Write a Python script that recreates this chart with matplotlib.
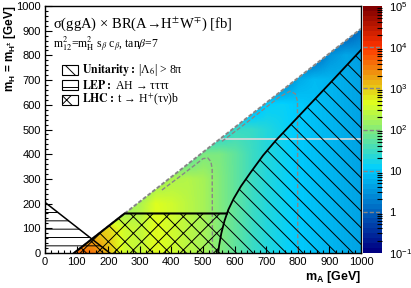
import numpy as np
import matplotlib
matplotlib.use("Agg")
import matplotlib.pyplot as plt
from matplotlib.colors import LinearSegmentedColormap, Normalize, LogNorm
from matplotlib.patches import Polygon, Rectangle
from matplotlib.cm import ScalarMappable
from matplotlib.ticker import MultipleLocator, FixedLocator, NullFormatter

plt.rcParams["font.family"] = ["Liberation Sans", "DejaVu Sans"]
plt.rcParams["mathtext.fontset"] = "custom"
plt.rcParams["mathtext.rm"] = "Liberation Sans"
plt.rcParams["mathtext.it"] = "Liberation Sans:italic"
plt.rcParams["mathtext.bf"] = "Liberation Sans:bold"
plt.rcParams["hatch.linewidth"] = 0.7

# --- data ------------------------------------------------------------------
# log10( sigma(ggA) x BR(A -> H+- W-+) / fb ) on a coarse (mA, mH) grid
mA_grid = [100, 150, 200, 250, 300, 350, 400, 450, 500, 550,
           600, 650, 700, 750, 800, 850, 900, 950, 1000]
mH_grid = [0, 100, 200, 300, 400, 500, 600, 700, 800, 900]
log_xsec = [
    [3.70, 3.60, 3.10, 2.55, 2.45, 2.70, 2.55, 2.40, 2.25, 2.00, 1.75, 1.50, 1.30, 1.15, 1.00, 0.90, 0.80, 0.70, 0.60],
    [2.80, 3.00, 2.95, 2.55, 2.45, 2.70, 2.55, 2.40, 2.25, 2.00, 1.75, 1.50, 1.30, 1.15, 1.00, 0.90, 0.80, 0.70, 0.60],
    [1.90, 1.90, 1.90, 2.10, 2.30, 2.65, 2.55, 2.40, 2.25, 2.00, 1.75, 1.50, 1.30, 1.15, 1.00, 0.90, 0.80, 0.70, 0.60],
    [1.70, 1.70, 1.70, 1.70, 1.70, 2.10, 2.30, 2.35, 2.25, 2.00, 1.75, 1.50, 1.30, 1.15, 1.00, 0.90, 0.80, 0.70, 0.60],
    [1.40, 1.40, 1.40, 1.40, 1.40, 1.40, 1.40, 1.55, 1.95, 1.95, 1.75, 1.50, 1.30, 1.15, 1.00, 0.90, 0.80, 0.70, 0.60],
    [1.00, 1.00, 1.00, 1.00, 1.00, 1.00, 1.00, 1.00, 1.00, 1.10, 1.45, 1.45, 1.30, 1.15, 1.00, 0.90, 0.80, 0.70, 0.60],
    [0.55, 0.55, 0.55, 0.55, 0.55, 0.55, 0.55, 0.55, 0.55, 0.55, 0.55, 0.65, 1.05, 1.10, 1.00, 0.90, 0.80, 0.70, 0.60],
    [0.15, 0.15, 0.15, 0.15, 0.15, 0.15, 0.15, 0.15, 0.15, 0.15, 0.15, 0.15, 0.15, 0.25, 0.70, 0.85, 0.80, 0.70, 0.60],
    [-0.10, -0.10, -0.10, -0.10, -0.10, -0.10, -0.10, -0.10, -0.10, -0.10, -0.10, -0.10, -0.10, -0.10, -0.10, 0.00, 0.45, 0.65, 0.55],
    [-0.30, -0.30, -0.30, -0.30, -0.30, -0.30, -0.30, -0.30, -0.30, -0.30, -0.30, -0.30, -0.30, -0.30, -0.30, -0.30, -0.30, -0.20, 0.20],
]
kin_offset = 92          # A -> H W threshold edge: mA - mH
glitch_mH = 462          # faint empty row in the map

lep_sum = 205            # LEP: mA + mH below this excluded
lhc_mH = 160             # LHC: t -> H+ b excluded below this

unit_mA = [548, 551, 558, 568, 580, 597, 620, 650, 690, 730, 800, 900, 1000]
unit_mH = [0, 30, 80, 130, 175, 220, 270, 325, 395, 455, 550, 685, 822]

cont1_mA = [370, 420, 470, 500, 515, 525, 529, 530]
cont1_mH = [255, 303, 352, 382, 385, 370, 340, 0]
cont2_mA = [560, 620, 680, 740, 775, 792, 799, 800]
cont2_mH = [452, 510, 570, 630, 655, 645, 615, 0]

cbar_ticks = [1e-1, 1, 10, 1e2, 1e3, 1e4, 1e5]
cbar_labels = ["$10^{-1}$", "1", "10", "$10^{2}$", "$10^{3}$", "$10^{4}$", "$10^{5}$"]

title = "σ(ggA) × BR(A→H$^{\\pm}$W$^{\\mp}$) [fb]"
subtitle = "m$^{2}_{12}$=m$^{2}_{\\rm H}$ s$_{\\beta}$ c$_{\\beta}$, tan$\\beta$=7"
legend_labels = ["$\\mathbf{Unitarity:}$ |Λ$_{6}$| > 8π",
                 "$\\mathbf{LEP:}$ AH → ττττ",
                 "$\\mathbf{LHC:}$ t → H$^{+}$(τν)b"]
legend_hatches = ["\\\\", "--", "xx"]

# ROOT-like rainbow
cmap = LinearSegmentedColormap.from_list(
    "rootrainbow",
    [(0.00, (0.00, 0.00, 0.51)),
     (0.34, (0.00, 0.81, 1.00)),
     (0.61, (0.87, 1.00, 0.12)),
     (0.84, (1.00, 0.20, 0.00)),
     (1.00, (0.51, 0.00, 0.00))])

W, H = 411, 288
fig = plt.figure(figsize=(W / 100, H / 100), dpi=100)
ax = fig.add_axes([45 / W, 1 - 253 / H, 316 / W, 247 / H])

# heat map, clipped to the kinematically allowed triangle
hx = (mA_grid[1] - mA_grid[0]) / 2
hy = (mH_grid[1] - mH_grid[0]) / 2
im = ax.imshow(np.array(log_xsec), origin="lower", aspect="auto",
               extent=(mA_grid[0] - hx, mA_grid[-1] + hx, mH_grid[0] - hy, mH_grid[-1] + hy),
               cmap=cmap, norm=Normalize(-1, 5), interpolation="bilinear",
               interpolation_stage="data", zorder=1)
edge = Polygon([(kin_offset, 0), (1000, 1000 - kin_offset), (1000, 0)], closed=True,
               transform=ax.transData)
im.set_clip_path(edge)

ax.plot([glitch_mH + kin_offset, 1000], [glitch_mH, glitch_mH], color="#dadada", lw=1.2, zorder=2)

gray = "#878787"
ax.plot([kin_offset, 1000], [0, 1000 - kin_offset], color=gray, lw=1.4, ls=(0, (2, 1)), zorder=3)
ax.plot(cont1_mA, cont1_mH, color=gray, lw=1.0, ls=(0, (3, 1.5)), zorder=3)
ax.plot(cont2_mA, cont2_mH, color=gray, lw=1.0, ls=(0, (3, 1.5)), zorder=3)

# excluded regions
unit_poly = list(zip(unit_mA, unit_mH)) + [(1000, 0)]
ax.add_patch(Polygon(unit_poly, closed=True, facecolor="none", edgecolor="black",
                     hatch=legend_hatches[0], lw=0, zorder=4))
ax.add_patch(Polygon([(0, 0), (0, lep_sum), (lep_sum, 0)], closed=True, facecolor="none",
                     edgecolor="black", hatch=legend_hatches[1], lw=0, zorder=4))
u_lhc = np.interp(lhc_mH, unit_mH, unit_mA)
low = [(a, h) for a, h in zip(unit_mA, unit_mH) if h < lhc_mH][::-1]
lhc_poly = [(kin_offset, 0), (kin_offset + lhc_mH, lhc_mH), (u_lhc, lhc_mH)] + low
ax.add_patch(Polygon(lhc_poly, closed=True, facecolor="none", edgecolor="black",
                     hatch=legend_hatches[2], lw=0, zorder=4))

ax.plot(unit_mA, unit_mH, color="black", lw=1.3, zorder=5)
ax.plot([0, lep_sum], [lep_sum, 0], color="black", lw=1.1, zorder=5)
ax.plot([kin_offset, kin_offset + lhc_mH, u_lhc], [0, lhc_mH, lhc_mH], color="black", lw=1.5, zorder=5)

ax.set_xlim(0, 1000)
ax.set_ylim(0, 1000)
for axis in (ax.xaxis, ax.yaxis):
    axis.set_major_locator(MultipleLocator(100))
    axis.set_minor_locator(MultipleLocator(20))
ax.tick_params(which="both", direction="in", top=False, right=False, width=0.8, labelsize=8)
ax.tick_params(which="major", length=5)
ax.tick_params(which="minor", length=2.5)
ax.tick_params(axis="x", pad=3)
ax.tick_params(axis="y", pad=3)
for s in ax.spines.values():
    s.set_linewidth(1.0)

# text
serif = ["Liberation Serif", "DejaVu Serif"]
ax.text(25, 927, title, family=serif, math_fontfamily="stix", fontsize=10.5, va="center", zorder=6)
ax.text(25, 846, subtitle, family=serif, math_fontfamily="stix", fontsize=8.5, va="center", zorder=6)
row_mH = [741, 680, 619]
for lab, hat, y in zip(legend_labels, legend_hatches, row_mH):
    ax.add_patch(Rectangle((54, y - 20), 50, 40, facecolor="white", edgecolor="black",
                           hatch=hat, lw=0.8, zorder=6))
    ax.text(117, y, lab, family=serif, math_fontfamily="stix", fontsize=8.5, va="center", zorder=6)

fig.text(361 / W, 1 - 277 / H, "m$_{\\mathbf{A}}$ [GeV]", fontsize=9, fontweight="bold",
         ha="right", va="center")
fig.text(10 / W, 1 - 5 / H, "m$_{\\mathbf{H}}$ = m$_{\\mathbf{H^{\\pm}}}$ [GeV]", fontsize=8.5,
         fontweight="bold", rotation=90, ha="center", va="top")

# colour bar
cax = fig.add_axes([363 / W, 1 - 253 / H, 19 / W, 247 / H])
sm = ScalarMappable(norm=LogNorm(1e-1, 1e5), cmap=cmap.resampled(50))
cb = fig.colorbar(sm, cax=cax)
cb.outline.set_visible(False)
cax.yaxis.set_major_locator(FixedLocator(cbar_ticks))
cax.yaxis.set_ticklabels(cbar_labels)
cax.tick_params(which="major", length=0, pad=5, labelsize=8)
cax.tick_params(which="minor", direction="in", length=3.5, width=0.8, color="black")
cax.yaxis.set_minor_formatter(NullFormatter())
for t in cbar_ticks[1:-1]:
    cax.axhline(t, color=gray, lw=1.0, ls=(0, (3, 1.5)))

fig.savefig("out.png", dpi=100)
